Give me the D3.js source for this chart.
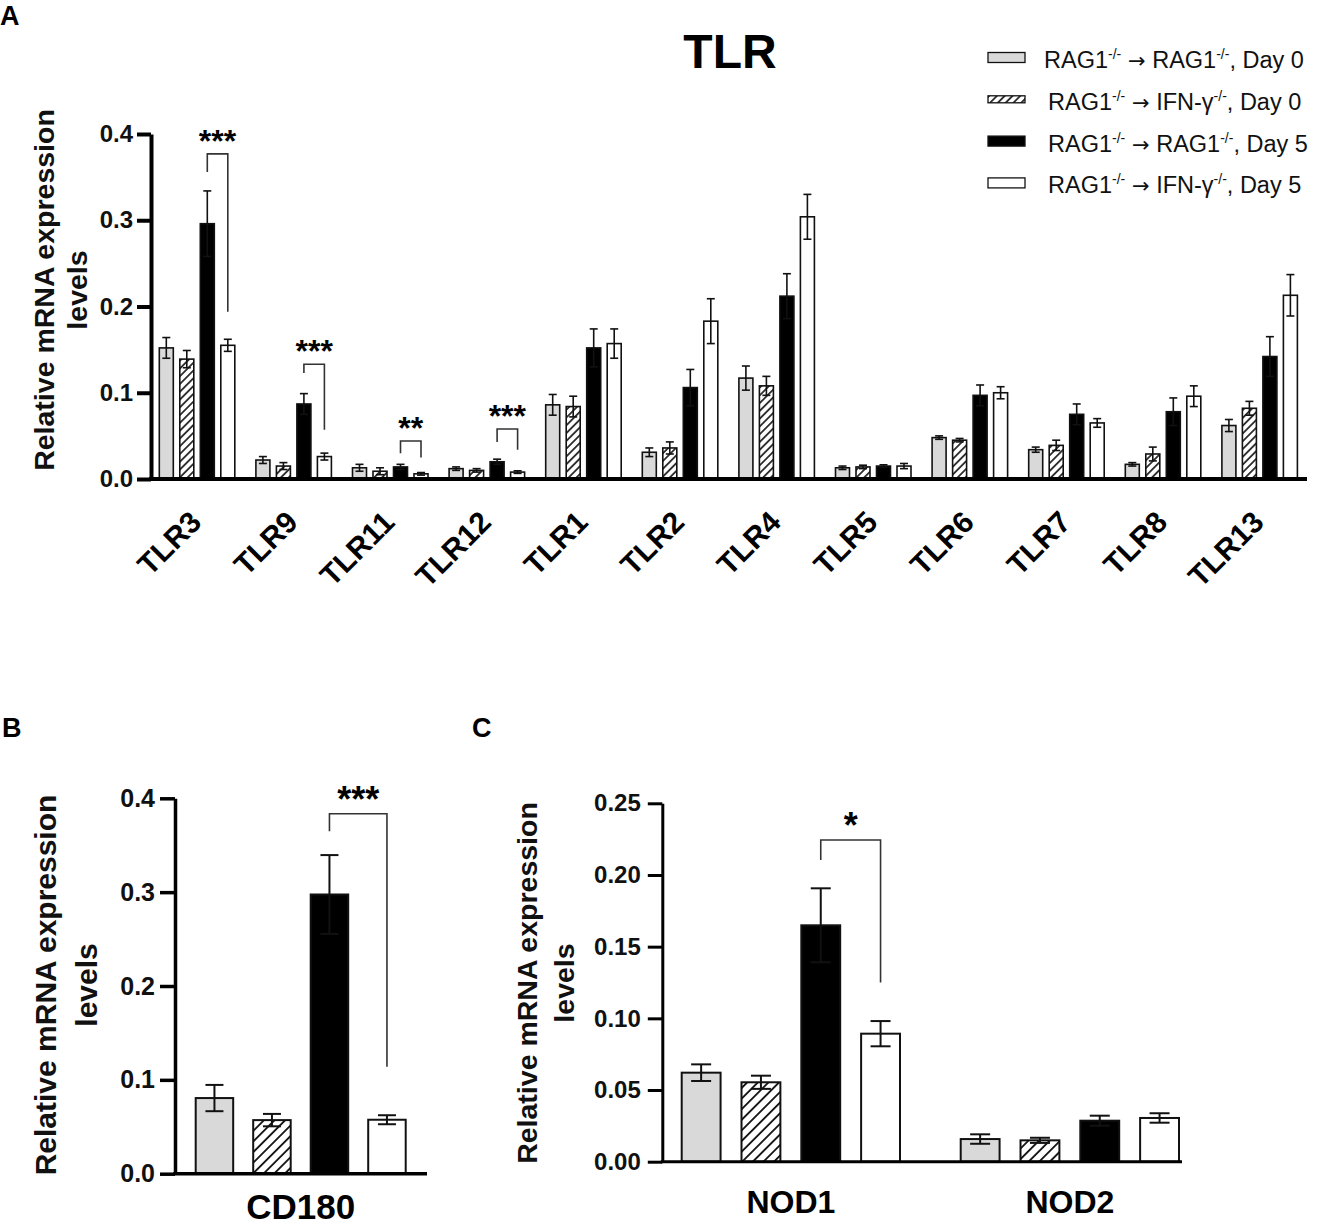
<!DOCTYPE html>
<html>
<head>
<meta charset="utf-8">
<script src="https://cdn.jsdelivr.net/npm/d3@7"></script>
<style>
  body { margin: 0; background: #fff; }
  text { font-family: "Liberation Sans", Arial, sans-serif; }
</style>
</head>
<body>
<script>
// ---- data ----
var groupsA = ["TLR3", "TLR9", "TLR11", "TLR12", "TLR1", "TLR2", "TLR4", "TLR5", "TLR6", "TLR7", "TLR8", "TLR13"];
// one array per series (gray day0, hatched day0, black day5, white day5)
var meanA = [
  [0.152, 0.022, 0.013, 0.012, 0.086, 0.031, 0.117, 0.013, 0.048, 0.034, 0.017, 0.062],
  [0.139, 0.015, 0.009, 0.010, 0.084, 0.036, 0.108, 0.014, 0.045, 0.039, 0.029, 0.082],
  [0.296, 0.087, 0.014, 0.020, 0.152, 0.106, 0.212, 0.015, 0.097, 0.075, 0.078, 0.142],
  [0.155, 0.026, 0.006, 0.008, 0.157, 0.183, 0.304, 0.015, 0.100, 0.065, 0.096, 0.213]
];
var errA = [
  [0.012, 0.004, 0.004, 0.002, 0.012, 0.005, 0.014, 0.002, 0.002, 0.003, 0.002, 0.007],
  [0.010, 0.004, 0.004, 0.002, 0.012, 0.007, 0.011, 0.002, 0.002, 0.006, 0.008, 0.008],
  [0.038, 0.012, 0.003, 0.003, 0.022, 0.021, 0.026, 0.0015, 0.012, 0.012, 0.016, 0.023],
  [0.007, 0.004, 0.0015, 0.0015, 0.017, 0.026, 0.026, 0.003, 0.007, 0.005, 0.012, 0.024]
];
var sigA = [
  { group: "TLR3", label: "***", top: 0.377, left: 0.356, right: 0.194 },
  { group: "TLR9", label: "***", top: 0.133, left: 0.123, right: 0.057 },
  { group: "TLR11", label: "**", top: 0.044, left: 0.030, right: 0.025 },
  { group: "TLR12", label: "***", top: 0.058, left: 0.043, right: 0.034 }
];

var groupsB = ["CD180"];
var meanB = [[0.0806], [0.0571], [0.2975], [0.0575]];
var errB = [[0.014], [0.0066], [0.042], [0.0048]];
var sigB = [{ group: "CD180", label: "***", top: 0.3835, left: 0.365, right: 0.114 }];

var groupsC = ["NOD1", "NOD2"];
var meanC = [[0.0621, 0.0158], [0.0554, 0.0149], [0.1649, 0.0286], [0.0893, 0.0305]];
var errC = [[0.0058, 0.0033], [0.0046, 0.0018], [0.0258, 0.0035], [0.0088, 0.0033]];
var sigC = [{ group: "NOD1", label: "*", top: 0.2244, left: 0.2105, right: 0.125 }];

var ticksA = [0, 0.1, 0.2, 0.3, 0.4];
var ticksC = [0, 0.05, 0.10, 0.15, 0.20, 0.25];

var legendDonor = ["RAG1", "RAG1", "RAG1", "RAG1"];
var legendRecipient = ["RAG1", "IFN-γ", "RAG1", "IFN-γ"];
var legendDay = ["Day 0", "Day 0", "Day 5", "Day 5"];

var yTitle = ["Relative mRNA expression", "levels"];

// ---- drawing ----
var svg = d3.select("body").append("svg")
    .attr("width", 1322)
    .attr("height", 1229);
var defs = svg.append("defs");

function hatch(id, gap, sw) {
    var p = defs.append("pattern")
        .attr("id", id)
        .attr("patternUnits", "userSpaceOnUse")
        .attr("width", gap).attr("height", gap)
        .attr("patternTransform", "rotate(45)");
    p.append("rect").attr("width", gap).attr("height", gap).attr("fill", "#fff");
    p.append("line")
        .attr("x1", gap / 2).attr("x2", gap / 2)
        .attr("y1", 0).attr("y2", gap)
        .attr("stroke", "#000").attr("stroke-width", sw);
}
hatch("hatchA", 5.5, 1.5);
hatch("hatchB", 7.5, 1.7);

var fills = ["#d9d9d9", null, "#000", "#fff"];

function drawPanel(o) {
    var g = svg.append("g");
    var y = d3.scaleLinear().domain([0, o.ymax]).range([o.y0, o.y1]);
    var x = d3.scaleBand().domain(o.groups).range([o.bx0, o.bx1]).paddingInner(o.groupPad);
    var xs = d3.scaleBand().domain([0, 1, 2, 3]).range([0, x.bandwidth()]).paddingInner(o.barPad);

    var rows = [];
    o.groups.forEach(function (grp, gi) {
        for (var s = 0; s < 4; s++) {
            rows.push({ group: grp, s: s, v: o.mean[s][gi], e: o.err[s][gi] });
        }
    });
    var cx = function (d) { return x(d.group) + xs(d.s) + xs.bandwidth() / 2; };

    g.selectAll("rect.bar")
        .data(rows)
        .enter().append("rect")
        .attr("class", "bar")
        .attr("x", function (d) { return x(d.group) + xs(d.s); })
        .attr("y", function (d) { return y(d.v); })
        .attr("width", xs.bandwidth())
        .attr("height", function (d) { return y(0) - y(d.v); })
        .attr("fill", function (d) { return d.s === 1 ? "url(#" + o.hatch + ")" : fills[d.s]; })
        .attr("stroke", "#111")
        .attr("stroke-width", o.barStroke);

    var eb = g.selectAll("g.err")
        .data(rows)
        .enter().append("g")
        .attr("class", "err")
        .attr("stroke", "#111")
        .attr("stroke-width", o.errStroke);
    eb.append("line")
        .attr("x1", cx).attr("x2", cx)
        .attr("y1", function (d) { return y(d.v - d.e); })
        .attr("y2", function (d) { return y(d.v + d.e); });
    [1, -1].forEach(function (sign) {
        eb.append("line")
            .attr("x1", function (d) { return cx(d) - o.cap / 2; })
            .attr("x2", function (d) { return cx(d) + o.cap / 2; })
            .attr("y1", function (d) { return y(d.v + sign * d.e); })
            .attr("y2", function (d) { return y(d.v + sign * d.e); });
    });

    // significance brackets between black and white bars
    var xl = function (d) { return x(d.group) + xs(2) + xs.bandwidth() / 2; };
    var xr = function (d) { return x(d.group) + xs(3) + xs.bandwidth() / 2; };
    var sg = g.selectAll("g.sig")
        .data(o.sig)
        .enter().append("g")
        .attr("class", "sig");
    sg.append("path")
        .attr("fill", "none")
        .attr("stroke", "#333")
        .attr("stroke-width", 1.6)
        .attr("d", function (d) {
            return "M" + xl(d) + "," + y(d.left) + "V" + y(d.top) + "H" + xr(d) + "V" + y(d.right);
        });
    sg.append("text")
        .attr("x", function (d) { return (xl(d) + xr(d)) / 2; })
        .attr("y", function (d) { return y(d.top) - 2; })
        .attr("text-anchor", "middle")
        .attr("font-weight", "bold")
        .attr("font-size", o.starFont)
        .text(function (d) { return d.label; });

    // axes
    var ax = g.append("g")
        .attr("transform", "translate(" + o.axisX + ",0)")
        .call(d3.axisLeft(y).tickValues(o.ticks).tickFormat(d3.format(o.fmt))
            .tickSize(o.tick).tickSizeOuter(0).tickPadding(o.tickPad));
    ax.select(".domain").attr("stroke", "#000").attr("stroke-width", o.axisW);
    ax.selectAll(".tick line").attr("stroke", "#000").attr("stroke-width", o.axisW);
    ax.selectAll(".tick text")
        .attr("font-size", o.tickFont)
        .attr("font-weight", "bold")
        .attr("font-family", "'Liberation Sans', Arial, sans-serif")
        .attr("fill", "#111");
    g.append("line")
        .attr("x1", o.axisX - o.axisW / 2).attr("x2", o.xEnd)
        .attr("y1", y(0)).attr("y2", y(0))
        .attr("stroke", "#000").attr("stroke-width", o.axisW);

    // category labels
    if (o.rotate) {
        g.selectAll("text.cat")
            .data(o.groups)
            .enter().append("text")
            .attr("class", "cat")
            .attr("text-anchor", "end")
            .attr("font-weight", "bold")
            .attr("font-size", o.catFont)
            .attr("transform", function (d) {
                return "translate(" + (x(d) + x.bandwidth() / 2 + 6) + "," + o.catY + ") rotate(-45)";
            })
            .text(function (d) { return d; });
    } else {
        g.selectAll("text.cat")
            .data(o.groups)
            .enter().append("text")
            .attr("class", "cat")
            .attr("text-anchor", "middle")
            .attr("font-weight", "bold")
            .attr("font-size", o.catFont)
            .attr("x", function (d) { return x(d) + x.bandwidth() / 2; })
            .attr("y", o.catY)
            .text(function (d) { return d; });
    }

    // y title
    yTitle.forEach(function (t, i) {
        g.append("text")
            .attr("transform", "translate(" + o.titleX[i] + "," + o.titleY + ") rotate(-90)")
            .attr("text-anchor", "middle")
            .attr("font-weight", "bold")
            .attr("font-size", o.titleFont)
            .attr("fill", "#111")
            .text(t);
    });

    // panel letter
    g.append("text")
        .attr("x", o.letterX).attr("y", o.letterY)
        .attr("font-weight", "bold")
        .attr("font-size", 27)
        .text(o.letter);
}

drawPanel({
    letter: "A", letterX: 0, letterY: 25,
    groups: groupsA, mean: meanA, err: errA, sig: sigA,
    ymax: 0.4, ticks: ticksA, fmt: ".1f",
    axisX: 151, y0: 479, y1: 134, bx0: 159.3, bx1: 1297.4, xEnd: 1307,
    groupPad: 0.2184, barPad: 0.317,
    axisW: 4, tick: 14, tickPad: 4, tickFont: 24,
    barStroke: 1.6, errStroke: 1.6, cap: 8, hatch: "hatchA", starFont: 32,
    rotate: true, catFont: 30, catY: 524,
    titleX: [54, 87], titleY: 290, titleFont: 28.5
});

drawPanel({
    letter: "B", letterX: 2, letterY: 737,
    groups: groupsB, mean: meanB, err: errB, sig: sigB,
    ymax: 0.4, ticks: ticksA, fmt: ".1f",
    axisX: 175, y0: 1173.7, y1: 798.3, bx0: 195.7, bx1: 405.7, xEnd: 427,
    groupPad: 0, barPad: 0.348,
    axisW: 3.5, tick: 15, tickPad: 5, tickFont: 25,
    barStroke: 2, errStroke: 2, cap: 18, hatch: "hatchB", starFont: 36,
    rotate: false, catFont: 35, catY: 1219,
    titleX: [56, 97], titleY: 985, titleFont: 30
});

drawPanel({
    letter: "C", letterX: 472, letterY: 737,
    groups: groupsC, mean: meanC, err: errC, sig: sigC,
    ymax: 0.25, ticks: ticksC, fmt: ".2f",
    axisX: 662.3, y0: 1161.7, y1: 803.3, bx0: 681.7, bx1: 1179, xEnd: 1182,
    groupPad: 0.2176, barPad: 0.35,
    axisW: 3, tick: 14.5, tickPad: 7, tickFont: 24,
    barStroke: 2, errStroke: 2, cap: 20, hatch: "hatchB", starFont: 36,
    rotate: false, catFont: 32, catY: 1213,
    titleX: [537, 574], titleY: 983, titleFont: 28.5
});

// title
svg.append("text")
    .attr("x", 730).attr("y", 68)
    .attr("text-anchor", "middle")
    .attr("font-weight", "bold")
    .attr("font-size", 48)
    .text("TLR");

// legend
var leg = svg.append("g").attr("font-size", 23.5).attr("fill", "#111");
legendDay.forEach(function (day, i) {
    var cy = 57.5 + i * 41.8;
    leg.append("rect")
        .attr("x", 988).attr("y", cy - (i === 1 ? 3.5 : 5))
        .attr("width", 37).attr("height", i === 1 ? 7 : 10)
        .attr("fill", i === 1 ? "url(#hatchA)" : fills[i])
        .attr("stroke", "#111").attr("stroke-width", 1.3);
    var t = leg.append("text").attr("x", i === 0 ? 1044 : 1048).attr("y", cy + 10.5);
    t.append("tspan").text(legendDonor[i]);
    t.append("tspan").attr("font-size", 14).attr("dy", -9).text("-/-");
    t.append("tspan").attr("dy", 9).attr("font-family", "'DejaVu Sans', sans-serif")
        .attr("font-size", 21).text(" \u2192 ");
    t.append("tspan").text(legendRecipient[i]);
    t.append("tspan").attr("font-size", 14).attr("dy", -9).text("-/-");
    t.append("tspan").attr("dy", 9).text(", " + day);
});
</script>
</body>
</html>
